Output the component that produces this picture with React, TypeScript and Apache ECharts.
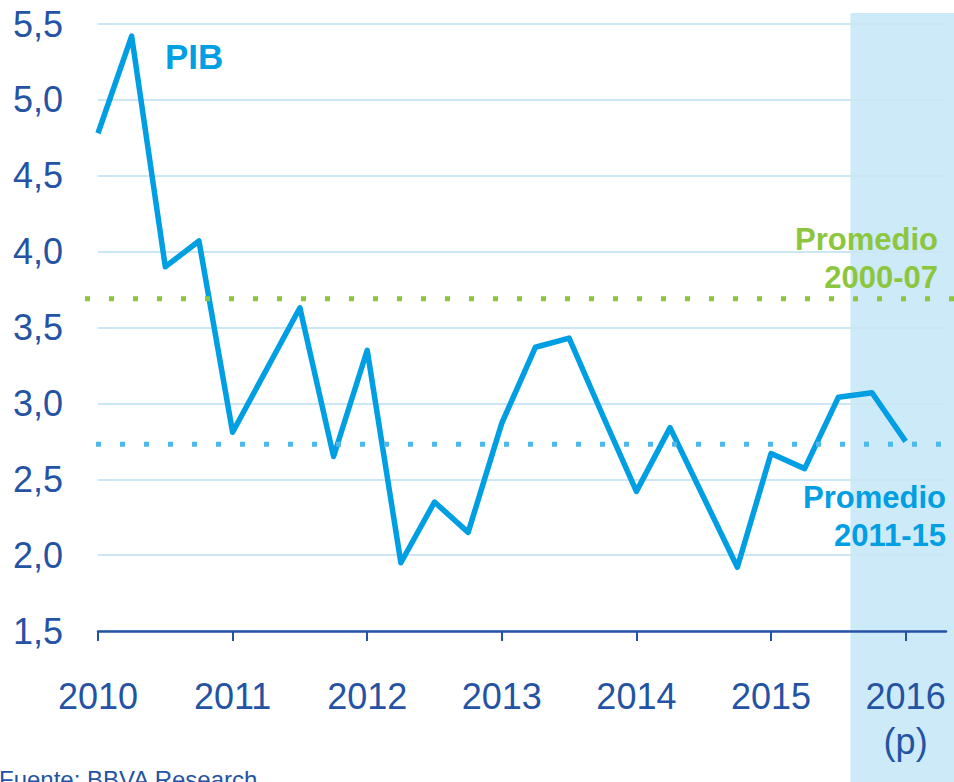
import { useEffect, useRef } from 'react';
import * as echarts from 'echarts';

// Quarterly GDP growth (% y/y), 2010 T1 .. 2016 T1 (p)
const quarterPositions = [
  2010, 2010.25, 2010.5, 2010.75,
  2011, 2011.25, 2011.5, 2011.75,
  2012, 2012.25, 2012.5, 2012.75,
  2013, 2013.25, 2013.5, 2013.75,
  2014, 2014.25, 2014.5, 2014.75,
  2015, 2015.25, 2015.5, 2015.75,
  2016,
];
const pibValues = [
  4.78, 5.42, 3.9, 4.07,
  2.81, 3.22, 3.63, 2.65,
  3.35, 1.95, 2.35, 2.15,
  2.87, 3.37, 3.43, 2.92,
  2.42, 2.84, 2.38, 1.92,
  2.67, 2.57, 3.04, 3.07,
  2.75,
];
const yearTicks = [2010, 2011, 2012, 2013, 2014, 2015, 2016];
const yearLabels = ['2010', '2011', '2012', '2013', '2014', '2015', '2016\n(p)'];
const avg2000_07 = 3.69;
const avg2011_15 = 2.73;
const forecastStart = 2015.59;
const xMin = 2010;
const xMax = 2016.3;
const yMin = 1.5;
const yMax = 5.5;
const yStep = 0.5;

const FONT = 'Liberation Sans, Arial, Helvetica, sans-serif';
const DARK = '#2453A4';
const LINE = '#009FE3';
const GREEN = '#8CC63F';
const DOT_BLUE = '#4DB8EA';
const SHADE = '#CDEAF8';
const GRIDC = '#CCE6F5';

export default function App() {
  const ref = useRef<HTMLDivElement>(null);
  useEffect(() => {
    if (!ref.current) return;
    const chart = echarts.init(ref.current, null, { renderer: 'svg' });
    const seriesData = quarterPositions.map((x, i) => [x, pibValues[i]]);
    chart.setOption({
      animation: false,
      grid: { left: 98, right: 8, top: 24, bottom: 151, containLabel: false },
      xAxis: {
        type: 'value',
        min: xMin,
        max: xMax,
        splitLine: { show: false },
        axisLine: { show: true, lineStyle: { color: DARK, width: 2.5 } },
        axisTick: {
          show: true,
          customValues: yearTicks,
          length: 10,
          lineStyle: { color: DARK, width: 2 },
        },
        axisLabel: {
          customValues: yearTicks,
          formatter: (v: number) => {
            const i = yearTicks.indexOf(Math.round(v));
            return i >= 0 ? yearLabels[i] : '';
          },
          fontSize: 36,
          lineHeight: 45,
          color: DARK,
          fontFamily: FONT,
          margin: 43,
        },
      },
      yAxis: {
        type: 'value',
        min: yMin,
        max: yMax,
        interval: yStep,
        axisLine: { show: false },
        axisTick: { show: false },
        splitLine: { lineStyle: { color: GRIDC, width: 2 } },
        axisLabel: {
          formatter: (v: number) => v.toFixed(1).replace('.', ','),
          fontSize: 36,
          color: DARK,
          fontFamily: FONT,
          margin: 35,
        },
      },
      series: [
        {
          type: 'line',
          data: seriesData,
          symbol: 'none',
          z: 3,
          lineStyle: { color: LINE, width: 5.5, join: 'round' },
        },
      ],
    });

    const yG = chart.convertToPixel({ yAxisIndex: 0 }, avg2000_07) as number;
    const yB = chart.convertToPixel({ yAxisIndex: 0 }, avg2011_15) as number;
    const xS = chart.convertToPixel({ xAxisIndex: 0 }, forecastStart) as number;
    const W = 954;
    const H = 782;

    chart.setOption({
      graphic: [
        {
          type: 'rect',
          z: -10,
          silent: true,
          shape: { x: xS, y: 13, width: W - xS, height: H - 13 },
          style: { fill: SHADE },
        },
        {
          type: 'line',
          z: 10,
          silent: true,
          shape: { x1: 85, y1: yG, x2: W, y2: yG },
          style: { stroke: GREEN, lineWidth: 5, lineDash: [5, 19], lineCap: 'butt' },
        },
        {
          type: 'line',
          z: 10,
          silent: true,
          shape: { x1: 96, y1: yB, x2: W, y2: yB },
          style: { stroke: DOT_BLUE, lineWidth: 5, lineDash: [5, 19], lineCap: 'butt' },
        },
        {
          type: 'text',
          z: 20,
          x: 165,
          y: 56,
          style: {
            text: 'PIB',
            fill: LINE,
            font: `bold 35px ${FONT}`,
            align: 'left',
            verticalAlign: 'middle',
          },
        },
        {
          type: 'text',
          z: 20,
          x: 938,
          y: 239,
          style: {
            text: 'Promedio',
            fill: GREEN,
            font: `bold 31px ${FONT}`,
            align: 'right',
            verticalAlign: 'middle',
          },
        },
        {
          type: 'text',
          z: 20,
          x: 938,
          y: 277,
          style: {
            text: '2000-07',
            fill: GREEN,
            font: `bold 31px ${FONT}`,
            align: 'right',
            verticalAlign: 'middle',
          },
        },
        {
          type: 'text',
          z: 20,
          x: 946,
          y: 497,
          style: {
            text: 'Promedio',
            fill: LINE,
            font: `bold 31px ${FONT}`,
            align: 'right',
            verticalAlign: 'middle',
          },
        },
        {
          type: 'text',
          z: 20,
          x: 946,
          y: 535,
          style: {
            text: '2011-15',
            fill: LINE,
            font: `bold 31px ${FONT}`,
            align: 'right',
            verticalAlign: 'middle',
          },
        },
        {
          type: 'text',
          z: 20,
          x: -1,
          y: 779,
          style: {
            text: 'Fuente: BBVA Research',
            fill: DARK,
            font: `24px ${FONT}`,
            align: 'left',
            verticalAlign: 'middle',
          },
        },
      ],
    });

    return () => chart.dispose();
  }, []);
  return (
    <div
      ref={ref}
      style={{ position: 'absolute', left: 0, top: 0, width: 954, height: 782 }}
    />
  );
}
